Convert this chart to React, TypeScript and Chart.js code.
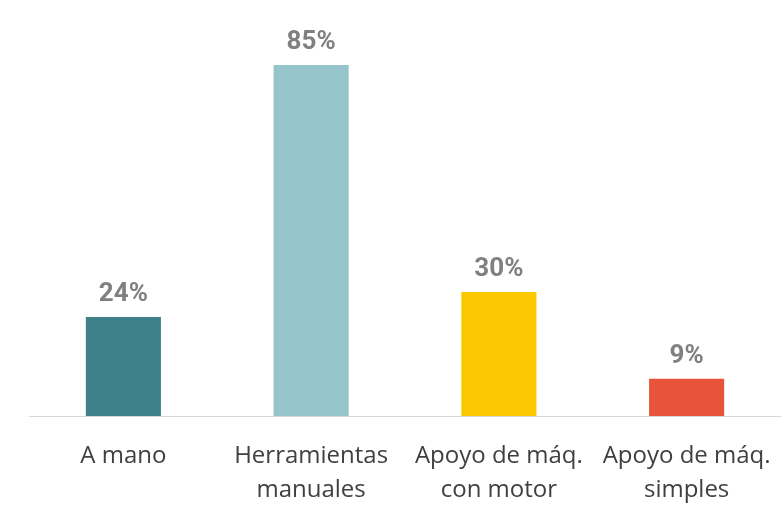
import React, { useEffect, useRef } from "react";
import { Chart, registerables } from "chart.js";

Chart.register(...registerables);

const categories: string[][] = [
  ["A mano"],
  ["Herramientas", "manuales"],
  ["Apoyo de máq.", "con motor"],
  ["Apoyo de máq.", "simples"],
];
const values: number[] = [24, 85, 30, 9];
const barColors: string[] = ["#3f818a", "#95c5cb", "#fcc600", "#e9533a"];

const valueLabelPlugin = {
  id: "valueLabels",
  afterDatasetsDraw(chart: any) {
    const ctx = chart.ctx;
    const meta = chart.getDatasetMeta(0);
    ctx.save();
    ctx.font = "bold 26px Roboto, 'DejaVu Sans', sans-serif";
    ctx.fillStyle = "#808080";
    ctx.textAlign = "center";
    ctx.textBaseline = "alphabetic";
    meta.data.forEach((bar: any, i: number) => {
      ctx.fillText(values[i] + "%", bar.x, bar.y - 16);
    });
    ctx.restore();
  },
};

export default function App() {
  const ref = useRef<HTMLCanvasElement | null>(null);
  useEffect(() => {
    if (!ref.current) return;
    const chart = new Chart(ref.current, {
      type: "bar",
      data: {
        labels: categories,
        datasets: [
          {
            data: values,
            backgroundColor: barColors,
            barPercentage: 0.4,
            categoryPercentage: 1,
          },
        ],
      },
      options: {
        animation: false,
        responsive: false,
        maintainAspectRatio: false,
        layout: { padding: { left: 29.5, right: 1.5, top: 3, bottom: 0 } },
        plugins: {
          legend: { display: false },
          tooltip: { enabled: false },
        },
        scales: {
          x: {
            grid: { display: false, drawTicks: false },
            border: { display: true, color: "#d9d9d9", width: 1 },
            ticks: {
              color: "#404040",
              padding: 23,
              maxRotation: 0,
              autoSkip: false,
              font: { family: "'Open Sans', sans-serif", size: 24, lineHeight: 1.42 },
            },
            afterFit: (scale: any) => {
              scale.height = 89;
              scale.paddingLeft = 0;
              scale.paddingRight = 0;
            },
          },
          y: {
            display: false,
            min: 0,
            max: 100,
          },
        },
      },
      plugins: [valueLabelPlugin],
    });
    return () => chart.destroy();
  }, []);
  return (
    <div style={{ position: "absolute", left: 0, top: 0, width: 782, height: 505, background: "#fff" }}>
      <canvas ref={ref} width={782} height={505} style={{ display: "block" }} />
    </div>
  );
}
